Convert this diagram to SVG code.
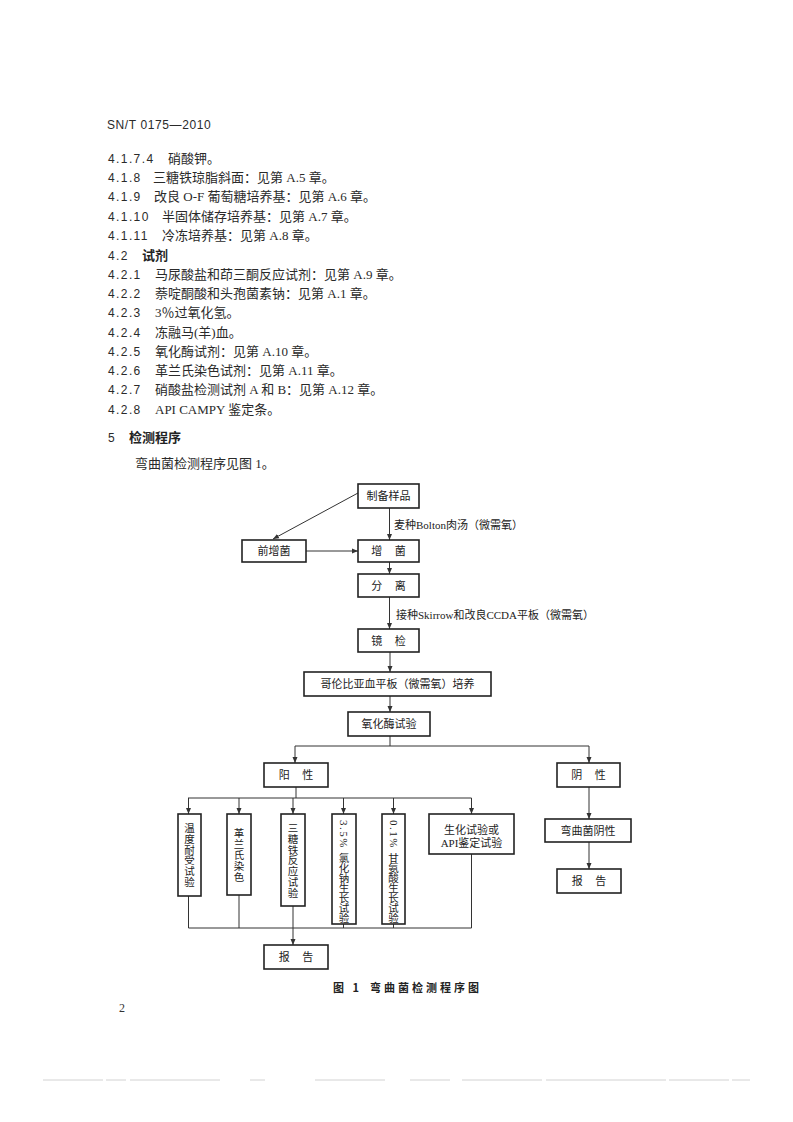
<svg xmlns="http://www.w3.org/2000/svg" width="793" height="1122" viewBox="0 0 793 1122">
<style>
.body{font-family:"Liberation Serif","Noto Sans CJK SC",serif;font-size:13px;fill:#2a2a2a}
.num{font-family:"Liberation Sans","Noto Sans CJK SC",sans-serif;font-size:12px;letter-spacing:1.4px;fill:#2a2a2a}
.hd{font-family:"Noto Sans CJK SC",sans-serif;font-size:13px;font-weight:bold;fill:#222}
.box{fill:#fff;stroke:#222;stroke-width:1.6}
.ln{fill:none;stroke:#333;stroke-width:1}
.t{font-family:"Liberation Serif","Noto Sans CJK SC",serif;font-size:11px;fill:#222;text-anchor:middle;dominant-baseline:central}
.lab{font-family:"Liberation Serif","Noto Sans CJK SC",serif;font-size:11px;fill:#222}
.vc{font-family:"Noto Sans CJK SC",sans-serif;font-size:10.5px;fill:#222;text-anchor:middle;dominant-baseline:central}
.vr{font-family:"Liberation Serif",serif;font-size:11px;fill:#222;dominant-baseline:central;letter-spacing:1.5px}
.cap{font-family:"Noto Sans CJK SC",sans-serif;font-size:11px;font-weight:bold;letter-spacing:3px;fill:#222}
</style>
<defs>
<marker id="arr" markerUnits="userSpaceOnUse" markerWidth="7" markerHeight="6" refX="6" refY="3" orient="auto">
<path d="M0,0.5 L6,3 L0,5.5 z" fill="#333"/>
</marker>
</defs>
<rect width="793" height="1122" fill="#fff"/>

<g id="page-text">
<text x="107" y="129" style="font-family:'Liberation Sans',sans-serif;font-size:12px;letter-spacing:0.6px;fill:#2a2a2a">SN/T 0175—2010</text>
<text class="num" x="108" y="162.5">4.1.7.4</text><text class="body" x="168" y="162.5">硝酸钾。</text>
<text class="num" x="108" y="182">4.1.8</text><text class="body" x="153" y="182">三糖铁琼脂斜面：见第 A.5 章。</text>
<text class="num" x="108" y="201">4.1.9</text><text class="body" x="154" y="201">改良 O-F 葡萄糖培养基：见第 A.6 章。</text>
<text class="num" x="108" y="220.5">4.1.10</text><text class="body" x="162" y="220.5">半固体储存培养基：见第 A.7 章。</text>
<text class="num" x="108" y="240">4.1.11</text><text class="body" x="162" y="240">冷冻培养基：见第 A.8 章。</text>
<text class="num" x="108" y="259.5">4.2</text><text class="hd" x="142" y="259.5">试剂</text>
<text class="num" x="108" y="278.5">4.2.1</text><text class="body" x="155" y="278.5">马尿酸盐和茚三酮反应试剂：见第 A.9 章。</text>
<text class="num" x="108" y="298">4.2.2</text><text class="body" x="155" y="298">萘啶酮酸和头孢菌素钠：见第 A.1 章。</text>
<text class="num" x="108" y="317">4.2.3</text><text class="body" x="155" y="317">3％过氧化氢。</text>
<text class="num" x="108" y="336.5">4.2.4</text><text class="body" x="155" y="336.5">冻融马(羊)血。</text>
<text class="num" x="108" y="355.5">4.2.5</text><text class="body" x="155" y="355.5">氧化酶试剂：见第 A.10 章。</text>
<text class="num" x="108" y="375">4.2.6</text><text class="body" x="155" y="375">革兰氏染色试剂：见第 A.11 章。</text>
<text class="num" x="108" y="394">4.2.7</text><text class="body" x="155" y="394">硝酸盐检测试剂 A 和 B：见第 A.12 章。</text>
<text class="num" x="108" y="413.5">4.2.8</text><text class="body" x="155" y="413.5">API CAMPY 鉴定条。</text>
<text class="num" x="108" y="441.5">5</text><text class="hd" x="129" y="441.5">检测程序</text>
<text class="body" x="135" y="467.5">弯曲菌检测程序见图 1。</text>
<text class="cap" x="333" y="992">图 1</text>
<text class="cap" x="370" y="992">弯曲菌检测程序图</text>
<text x="119" y="1012" style="font-family:'Liberation Serif',serif;font-size:12px;fill:#333">2</text>
<line x1="43" y1="1080" x2="750" y2="1080" stroke="#d2d2d2" stroke-width="1" stroke-dasharray="60,3,20,4,90,30,15,50,70,25,40,12,80,4,120,3"/>
</g>

<g id="connectors">
<line class="ln" x1="358" y1="493" x2="273" y2="539" marker-end="url(#arr)"/>
<line class="ln" x1="389.5" y1="508" x2="389.5" y2="540" marker-end="url(#arr)"/>
<line class="ln" x1="306" y1="551" x2="358" y2="551" marker-end="url(#arr)"/>
<line class="ln" x1="389.5" y1="562" x2="389.5" y2="574" marker-end="url(#arr)"/>
<line class="ln" x1="389.5" y1="597" x2="389.5" y2="629" marker-end="url(#arr)"/>
<line class="ln" x1="390" y1="652" x2="390" y2="672" marker-end="url(#arr)"/>
<line class="ln" x1="390" y1="696" x2="390" y2="712" marker-end="url(#arr)"/>
<polyline class="ln" points="390,736 390,746"/>
<line class="ln" x1="295" y1="746" x2="589" y2="746"/>
<line class="ln" x1="295" y1="746" x2="295" y2="763" marker-end="url(#arr)"/>
<line class="ln" x1="589" y1="746" x2="589" y2="763" marker-end="url(#arr)"/>
<polyline class="ln" points="296,787 296,798"/>
<line class="ln" x1="188" y1="798" x2="471.5" y2="798"/>
<line class="ln" x1="188.5" y1="798" x2="188.5" y2="814" marker-end="url(#arr)"/>
<line class="ln" x1="239" y1="798" x2="239" y2="814" marker-end="url(#arr)"/>
<line class="ln" x1="293" y1="798" x2="293" y2="814" marker-end="url(#arr)"/>
<line class="ln" x1="343.5" y1="798" x2="343.5" y2="814" marker-end="url(#arr)"/>
<line class="ln" x1="393.5" y1="798" x2="393.5" y2="814" marker-end="url(#arr)"/>
<line class="ln" x1="471.5" y1="798" x2="471.5" y2="814" marker-end="url(#arr)"/>
<line class="ln" x1="188.5" y1="896" x2="188.5" y2="928"/>
<line class="ln" x1="239" y1="895" x2="239" y2="928"/>
<line class="ln" x1="343.5" y1="924" x2="343.5" y2="928"/>
<line class="ln" x1="393.5" y1="924" x2="393.5" y2="928"/>
<line class="ln" x1="471.5" y1="854" x2="471.5" y2="928"/>
<line class="ln" x1="188.5" y1="928" x2="471.5" y2="928"/>
<line class="ln" x1="293" y1="906" x2="293" y2="945" marker-end="url(#arr)"/>
<line class="ln" x1="589" y1="787" x2="589" y2="819" marker-end="url(#arr)"/>
<line class="ln" x1="589" y1="842" x2="589" y2="869" marker-end="url(#arr)"/>
<text class="lab" x="394" y="529">麦种Bolton肉汤（微需氧）</text>
<text class="lab" x="396" y="619">接种Skirrow和改良CCDA平板（微需氧）</text>
</g>

<g id="n-prepare"><rect class="box" x="358" y="484" width="61" height="24"/><text class="t" x="388.5" y="496">制备样品</text></g>
<g id="n-preenrich"><rect class="box" x="242" y="540" width="64" height="22"/><text class="t" x="274" y="551">前增菌</text></g>
<g id="n-enrich"><rect class="box" x="358" y="540" width="61" height="22"/><text class="t" x="391" y="551" style="letter-spacing:5px">增 菌</text></g>
<g id="n-isolate"><rect class="box" x="358" y="574" width="61" height="23"/><text class="t" x="391" y="585.5" style="letter-spacing:5px">分 离</text></g>
<g id="n-microscopy"><rect class="box" x="358" y="629" width="61" height="23"/><text class="t" x="391" y="640.5" style="letter-spacing:5px">镜 检</text></g>
<g id="n-columbia"><rect class="box" x="304" y="672" width="187" height="24"/><text class="t" x="397.5" y="684">哥伦比亚血平板（微需氧）培养</text></g>
<g id="n-oxidase"><rect class="box" x="348" y="712" width="82" height="24"/><text class="t" x="389" y="724">氧化酶试验</text></g>
<g id="n-positive"><rect class="box" x="264" y="763" width="64" height="24"/><text class="t" x="298.5" y="775" style="letter-spacing:5px">阳 性</text></g>
<g id="n-negative"><rect class="box" x="557" y="763" width="63" height="24"/><text class="t" x="591" y="775" style="letter-spacing:5px">阴 性</text></g>
<g id="n-temp"><rect class="box" x="178" y="814" width="23" height="82"/><text class="vc" x="189.5 189.5 189.5 189.5 189.5 189.5" y="827.5 838.3 849.1 859.9 870.7 881.5">温度耐受试验</text></g>
<g id="n-gram"><rect class="box" x="227" y="814" width="24" height="81"/><text class="vc" x="239 239 239 239 239" y="832.5 843.5 854.5 865.5 876.5">革兰氏染色</text></g>
<g id="n-tsi"><rect class="box" x="281" y="814" width="24" height="92"/><text class="vc" x="293 293 293 293 293 293 293" y="827.5 838.3 849.1 859.9 870.7 881.5 892.3">三糖铁反应试验</text></g>
<g id="n-nacl"><rect class="box" x="332" y="814" width="24" height="110"/><text class="vr" transform="translate(344,820) rotate(90)">3.5%</text><text class="vc" x="344 344 344 344 344 344 344" y="857 867 877 887 897 907 917">氯化钠生长试验</text></g>
<g id="n-glycine"><rect class="box" x="382" y="814" width="23" height="110"/><text class="vr" transform="translate(393.5,820) rotate(90)">0.1%</text><text class="vc" x="393.5 393.5 393.5 393.5 393.5 393.5 393.5" y="857 867 877 887 897 907 917">甘氨酸生长试验</text></g>
<g id="n-biochem"><rect class="box" x="429" y="814" width="85" height="40"/><text class="t" x="471.5" y="830">生化试验或</text><text class="t" x="471.5" y="843">API鉴定试验</text></g>
<g id="n-campy-neg"><rect class="box" x="545" y="819" width="86" height="23"/><text class="t" x="588" y="830.5">弯曲菌阴性</text></g>
<g id="n-report-right"><rect class="box" x="557" y="869" width="64" height="24"/><text class="t" x="591.5" y="881" style="letter-spacing:5px">报 告</text></g>
<g id="n-report"><rect class="box" x="264" y="945" width="64" height="24"/><text class="t" x="298.5" y="957" style="letter-spacing:5px">报 告</text></g>
</svg>
